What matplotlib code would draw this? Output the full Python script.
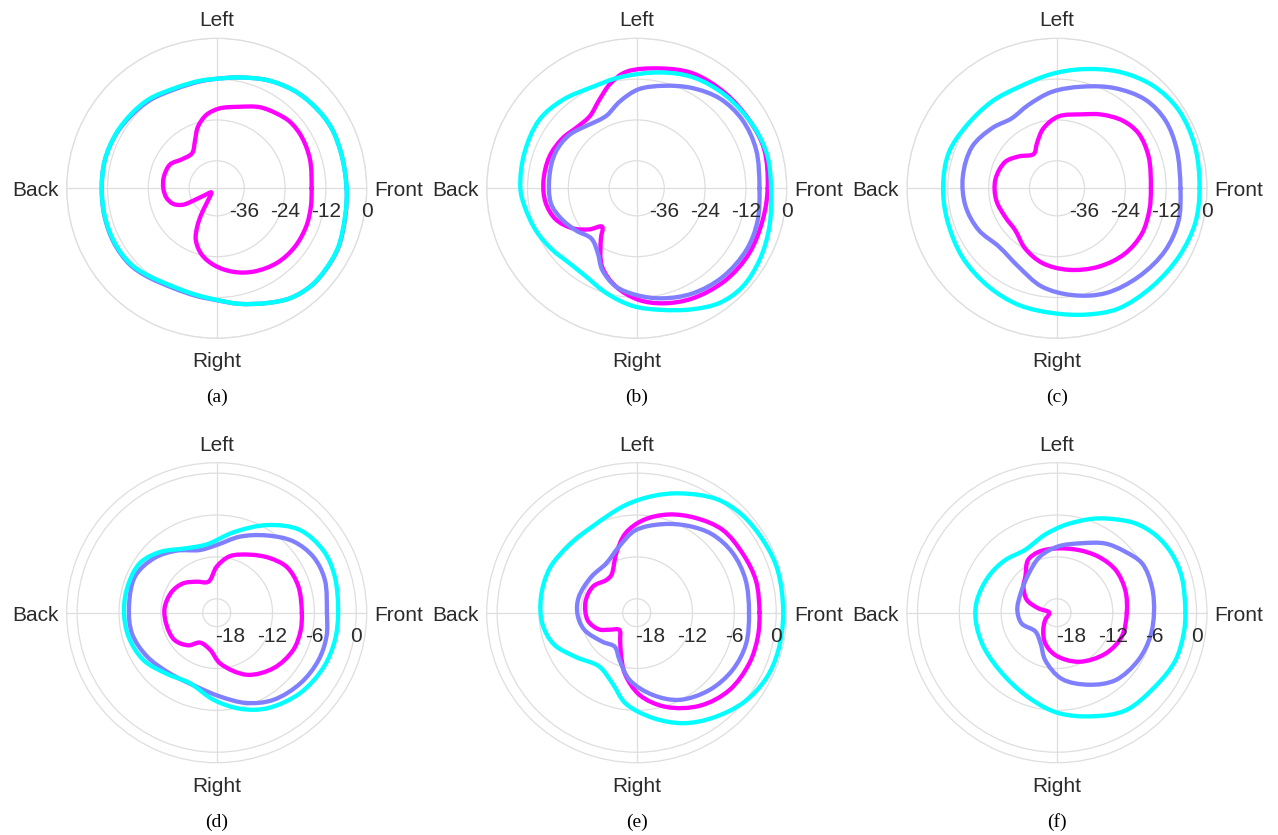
import numpy as np
import matplotlib
matplotlib.use("Agg")
import matplotlib.pyplot as plt
from matplotlib.path import Path
from matplotlib.patches import PathPatch
from matplotlib.transforms import offset_copy

# Directivity patterns: (azimuth in degrees, level in dB) for each panel
a_magenta = [(0, -16.2), (17, -15.4), (31, -14.9), (42, -15.0), (51, -15.9), (62, -17.1),
             (75, -19.3), (88, -20.6), (98, -22.3), (107, -25.2), (114, -28.5), (125, -31.5),
             (140, -30.8), (153, -28.7), (168, -28.2), (180, -28.4), (191, -29.1), (200, -30.6),
             (206, -33.1), (208, -36.8), (210, -40.2), (217, -42.1), (236, -38.8), (239, -35.6),
             (243, -31.5), (248, -27.7), (257, -24.2), (268, -21.5), (281, -19.1), (294, -17.3),
             (309, -15.9), (323, -15.4), (337, -15.5), (349, -15.9)]
a_blue = [(0, -5.9), (15, -6.1), (28, -6.0), (40, -6.6), (52, -7.5), (65, -9.0), (79, -10.9),
          (90, -11.9), (99, -12.3), (112, -12.5), (127, -11.6), (139, -11.1), (152, -10.5),
          (166, -10.2), (180, -10.3), (194, -10.1), (208, -9.9), (221, -10.1), (231, -11.0),
          (246, -12.1), (259, -11.9), (270, -11.2), (281, -9.5), (294, -7.2), (304, -5.2),
          (314, -4.2), (323, -4.1), (334, -4.3), (348, -5.4)]
a_cyan = [(0, -5.9), (15, -6.1), (28, -6.0), (40, -6.6), (52, -7.5), (65, -9.0), (79, -10.9),
          (90, -11.9), (99, -12.1), (112, -12.2), (127, -11.2), (139, -10.8), (152, -10.4),
          (166, -10.2), (180, -10.3), (194, -10.2), (208, -10.1), (221, -10.4), (231, -11.4),
          (246, -12.5), (259, -12.2), (270, -11.3), (281, -9.5), (294, -7.2), (304, -5.2),
          (314, -4.2), (323, -4.2), (334, -4.4), (348, -5.5)]

b_magenta = [(0, -5.6), (17, -4.9), (31, -5.4), (47, -5.9), (64, -6.5), (79, -8.2), (95, -9.7),
             (104, -12.3), (113, -15.9), (123, -18.8), (134, -19.0), (146, -17.8), (160, -16.8),
             (176, -16.6), (189, -17.0), (201, -18.6), (212, -21.9), (221, -25.7), (228, -28.9),
             (235, -25.7), (246, -19.0), (258, -14.6), (271, -11.3), (283, -9.4), (297, -7.8),
             (314, -6.5), (330, -5.9), (346, -5.9)]
b_blue = [(0, -8.0), (18, -7.2), (33, -7.1), (47, -8.1), (61, -10.4), (75, -12.9), (89, -15.0),
          (101, -18.1), (112, -20.9), (119, -21.2), (129, -20.5), (142, -18.8), (156, -18.0),
          (172, -18.2), (190, -18.5), (202, -20.2), (215, -22.4), (228, -24.2), (239, -21.9),
          (247, -18.1), (258, -14.6), (270, -12.7), (283, -10.9), (298, -9.1), (314, -7.8),
          (331, -7.1), (345, -7.3)]
b_cyan = [(0, -4.6), (14, -4.5), (28, -5.2), (46, -6.3), (63, -7.5), (79, -9.4), (99, -11.1),
          (113, -11.6), (130, -10.2), (145, -9.1), (163, -9.5), (180, -9.9), (189, -10.7),
          (203, -12.0), (216, -13.4), (228, -14.5), (240, -14.2), (254, -12.0), (268, -9.5),
          (281, -7.7), (295, -4.9), (306, -2.5), (317, -1.6), (330, -2.3), (344, -3.5)]

c_magenta = [(0, -16.5), (19, -15.6), (34, -15.2), (46, -16.4), (59, -18.8), (71, -21.1),
             (89, -23.0), (103, -26.1), (114, -29.6), (124, -31.9), (140, -29.5), (153, -27.0),
             (172, -25.8), (191, -25.9), (209, -26.7), (225, -26.7), (242, -24.1), (259, -21.7),
             (278, -19.9), (298, -18.0), (316, -16.4), (332, -15.8), (347, -16.2)]
c_blue = [(0, -7.8), (18, -7.1), (32, -6.5), (45, -7.3), (60, -10.1), (76, -13.3), (93, -15.7),
          (109, -18.2), (123, -19.6), (137, -18.1), (154, -16.3), (173, -16.2), (191, -16.7),
          (208, -18.0), (225, -19.9), (244, -18.4), (261, -14.9), (278, -12.4), (295, -10.1),
          (313, -8.7), (330, -7.4), (345, -7.1)]
c_cyan = [(0, -2.2), (17, -1.7), (33, -1.6), (47, -2.8), (62, -5.3), (78, -8.3), (93, -10.5),
          (111, -12.3), (127, -12.2), (146, -11.7), (162, -10.6), (179, -10.6), (196, -10.5),
          (216, -9.7), (235, -8.9), (252, -8.0), (268, -7.4), (283, -6.0), (297, -4.4),
          (314, -3.9), (331, -3.0), (346, -2.2)]

d_magenta = [(0, -7.8), (18, -7.7), (33, -8.0), (46, -9.1), (60, -10.4), (77, -11.7), (90, -13.4),
             (105, -15.4), (123, -14.7), (139, -13.6), (155, -12.9), (175, -12.5), (194, -12.6),
             (213, -12.8), (229, -13.8), (241, -15.1), (260, -14.6), (274, -12.7), (296, -10.1),
             (316, -8.6), (334, -7.8), (348, -7.7)]
d_blue = [(0, -4.2), (17, -3.8), (30, -4.0), (43, -5.0), (57, -6.8), (73, -8.6), (90, -10.3),
          (105, -10.7), (123, -9.4), (139, -8.1), (156, -7.2), (176, -7.4), (194, -7.5),
          (212, -8.2), (232, -9.0), (255, -9.0), (272, -8.0), (288, -6.4), (303, -5.1),
          (320, -4.3), (335, -3.9), (348, -3.9)]
d_cyan = [(0, -2.6), (17, -2.3), (30, -2.3), (45, -3.2), (60, -5.5), (78, -8.2), (98, -10.1),
          (115, -9.8), (133, -8.1), (147, -6.9), (162, -6.7), (178, -6.7), (195, -6.9),
          (213, -7.5), (231, -8.7), (249, -9.2), (268, -7.5), (284, -5.8), (298, -4.5),
          (316, -3.4), (333, -2.8), (347, -2.6)]

e_magenta = [(0, -2.4), (15, -2.3), (29, -2.6), (44, -2.9), (58, -4.0), (72, -5.2), (86, -6.7),
             (98, -8.5), (109, -11.0), (124, -13.5), (133, -13.6), (149, -12.7), (168, -12.5),
             (189, -12.9), (204, -14.1), (212, -15.4), (225, -16.5), (239, -15.4), (249, -13.7),
             (259, -11.1), (272, -8.2), (287, -5.9), (304, -3.9), (320, -2.7), (336, -2.3),
             (349, -2.3)]
e_blue = [(0, -3.9), (17, -3.7), (32, -3.8), (46, -4.4), (59, -5.5), (74, -6.8), (91, -8.2),
          (105, -10.2), (122, -11.7), (142, -11.7), (165, -11.4), (181, -11.5), (198, -12.1),
          (221, -13.6), (237, -14.2), (250, -12.8), (264, -10.3), (281, -8.0), (296, -6.1),
          (313, -4.8), (329, -4.0), (344, -3.7)]
e_cyan = [(0, 1.0), (17, 1.1), (29, 0.9), (43, 0.6), (55, -0.1), (70, -1.8), (82, -3.1),
          (96, -4.5), (117, -6.1), (135, -6.3), (153, -6.0), (171, -6.1), (187, -6.4),
          (201, -7.3), (216, -9.2), (235, -10.6), (251, -9.3), (263, -6.9), (279, -4.7),
          (293, -2.8), (306, -1.4), (320, 0.0), (333, 0.8), (345, 1.0)]

f_magenta = [(0, -10.0), (18, -9.7), (36, -9.6), (53, -10.0), (71, -10.5), (92, -10.8),
             (107, -10.9), (119, -11.4), (131, -13.1), (142, -13.9), (157, -15.3), (167, -17.3),
             (180, -18.9), (212, -18.0), (232, -16.8), (249, -15.3), (268, -13.9), (294, -12.3),
             (320, -10.9), (340, -10.1)]
f_blue = [(0, -6.1), (15, -5.9), (30, -5.9), (42, -6.9), (55, -7.9), (70, -9.4), (89, -10.5),
          (107, -11.6), (126, -13.1), (152, -14.1), (176, -14.3), (197, -14.7), (221, -15.9),
          (242, -15.0), (256, -13.0), (274, -10.5), (294, -8.7), (311, -7.2), (330, -6.5),
          (346, -6.2)]
f_cyan = [(0, -1.6), (16, -1.4), (27, -1.5), (38, -2.0), (49, -3.0), (61, -4.6), (70, -5.7),
          (85, -7.4), (99, -8.7), (117, -9.9), (135, -9.4), (152, -8.9), (171, -8.4),
          (185, -8.3), (205, -8.4), (231, -8.2), (254, -7.0), (271, -5.6), (289, -4.3),
          (305, -2.9), (323, -2.4), (338, -1.7), (351, -1.6)]

# Radial axis settings for the two rows
top_ticks = [-36, -24, -12, 0]
top_range = (-44.1, 0.0)
bottom_ticks = [-18, -12, -6, 0]
bottom_range = (-20.0, 1.5)

direction_labels = {"Front": 0, "Left": 90, "Back": 180, "Right": 270}
panel_labels = ["(a)", "(b)", "(c)", "(d)", "(e)", "(f)"]

MAGENTA = "#ff00ff"
BLUE = "#8080ff"
CYAN = "#00ffff"
GRID = "#dedede"
TEXT = "#2b2b2b"

panels = [
    (a_magenta, a_blue, a_cyan, top_ticks, top_range),
    (b_magenta, b_blue, b_cyan, top_ticks, top_range),
    (c_magenta, c_blue, c_cyan, top_ticks, top_range),
    (d_magenta, d_blue, d_cyan, bottom_ticks, bottom_range),
    (e_magenta, e_blue, e_cyan, bottom_ticks, bottom_range),
    (f_magenta, f_blue, f_cyan, bottom_ticks, bottom_range),
]

W, H = 1278, 835
R = 150  # plot radius in pixels
centers = [(216.7, 188.3), (636.7, 188.3), (1057.0, 188.3),
           (216.7, 612.7), (636.7, 612.7), (1057.0, 612.7)]
caption_y = [397.7, 397.7, 397.7, 822.0, 822.0, 822.0]

sans = "Liberation Sans"
serif = "Liberation Serif"


def smooth_polar_path(points, rmin):
    """Closed centripetal Catmull-Rom curve through the (deg, dB) samples,
    expressed as a Bezier path in (theta, r) data coordinates."""
    th = np.deg2rad([p[0] for p in points])
    rr = np.array([p[1] for p in points], dtype=float) - rmin
    xy = np.column_stack([rr * np.cos(th), rr * np.sin(th)])
    n = len(xy)

    def to_polar(p):
        return (np.arctan2(p[1], p[0]), np.hypot(p[0], p[1]) + rmin)

    verts = [to_polar(xy[0])]
    codes = [Path.MOVETO]
    eps = 1e-9
    for i in range(n):
        p0, p1, p2, p3 = xy[(i - 1) % n], xy[i], xy[(i + 1) % n], xy[(i + 2) % n]
        a1 = max(np.linalg.norm(p1 - p0), eps) ** 0.5
        a2 = max(np.linalg.norm(p2 - p1), eps) ** 0.5
        a3 = max(np.linalg.norm(p3 - p2), eps) ** 0.5
        b1 = (a1 ** 2 * p2 - a2 ** 2 * p0 + (2 * a1 ** 2 + 3 * a1 * a2 + a2 ** 2) * p1) \
            / (3 * a1 * (a1 + a2))
        b2 = (a3 ** 2 * p1 - a2 ** 2 * p3 + (2 * a3 ** 2 + 3 * a3 * a2 + a2 ** 2) * p2) \
            / (3 * a3 * (a3 + a2))
        verts += [to_polar(b1), to_polar(b2), to_polar(p2)]
        codes += [Path.CURVE4] * 3
    return Path(verts, codes)


fig = plt.figure(figsize=(W / 100, H / 100), dpi=100)
fig.patch.set_facecolor("white")

for i, (mag, blu, cya, ticks, rng) in enumerate(panels):
    cx, cy = centers[i]
    ax = fig.add_axes([(cx - R) / W, 1 - (cy + R) / H, 2 * R / W, 2 * R / H],
                      projection="polar")
    ax.set_theta_zero_location("E")
    ax.set_theta_direction(1)
    ax.set_autoscale_on(False)
    ax.set_ylim(*rng)
    ax.set_yticks(ticks)
    ax.set_yticklabels([])
    ax.set_xticks(np.deg2rad(list(direction_labels.values())))
    ax.set_xticklabels([])
    ax.tick_params(length=0)
    ax.grid(True, color=GRID, linewidth=0.9)
    ax.spines["polar"].set_color(GRID)
    ax.spines["polar"].set_linewidth(0.9)
    ax.set_facecolor("white")

    for z, (pts, col) in enumerate(((mag, MAGENTA), (blu, BLUE), (cya, CYAN))):
        patch = PathPatch(smooth_polar_path(pts, rng[0]), transform=ax.transData,
                          facecolor="none", edgecolor=col, linewidth=3.1,
                          joinstyle="round", capstyle="round", zorder=3 + z)
        ax.add_patch(patch)
    ax.set_ylim(*rng)

    # radial tick labels under the 0-degree spoke
    lab_tr = offset_copy(ax.transData, fig=fig, x=0, y=-29, units="dots")
    for t in ticks:
        ax.text(0, t, f"{t:d}", transform=lab_tr, ha="center", va="baseline",
                fontsize=15, family=sans, color=TEXT, zorder=10, clip_on=False)

    # direction labels around the circle
    ax.text(0.5, 1 + 12 / 300, "Left", transform=ax.transAxes, ha="center",
            va="baseline", fontsize=15, family=sans, color=TEXT)
    ax.text(0.5, -14 / 300, "Right", transform=ax.transAxes, ha="center",
            va="top", fontsize=15, family=sans, color=TEXT)
    ax.text(-8 / 300, 0.5 - 8 / 300, "Back", transform=ax.transAxes, ha="right",
            va="baseline", fontsize=15, family=sans, color=TEXT)
    ax.text(1 + 7.5 / 300, 0.5 - 8 / 300, "Front", transform=ax.transAxes, ha="left",
            va="baseline", fontsize=15, family=sans, color=TEXT)

    fig.text(cx / W, 1 - caption_y[i] / H, panel_labels[i], ha="center", va="center",
             fontsize=14, family=serif, color="black")

fig.savefig("out.png", dpi=100, facecolor="white")
